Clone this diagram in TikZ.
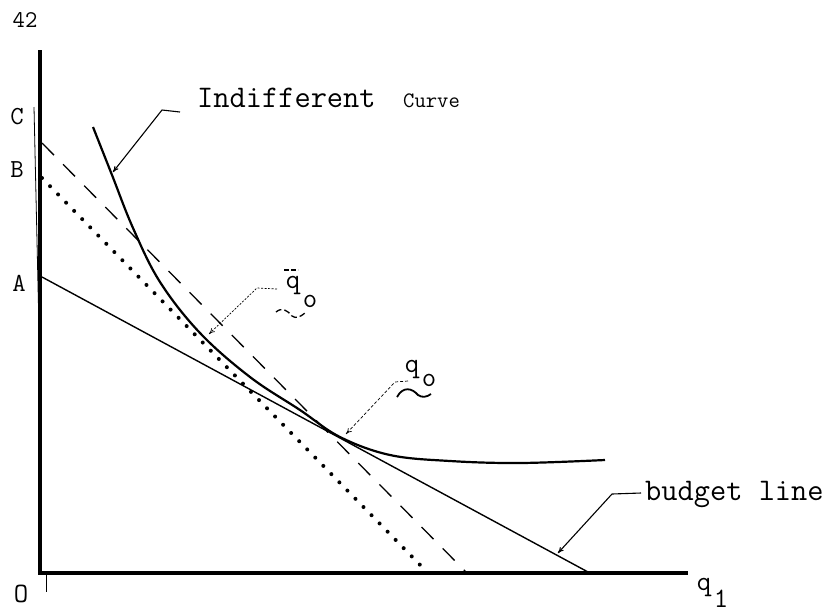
\documentclass[tikz,border=0pt]{standalone}
\usepackage{fontspec}
\newcommand{\twf}[1]{\ttfamily\fontsize{#1}{#1}\selectfont\addfontfeature{FakeBold=0.6}}
\usetikzlibrary{arrows.meta}
\begin{document}
\begin{tikzpicture}[x=1pt,y=-1pt,
  lbl/.style={inner sep=0pt,font=\twf{26}},
  ql/.style={inner sep=0pt,font=\twf{28}},
  big/.style={inner sep=0pt,font=\twf{31.5}},
  small/.style={inner sep=0pt,font=\twf{22}},
  axis/.style={line width=3.6pt},
  ptr/.style={line width=1.1pt,-{To[length=6pt,width=5pt]}},
  tptr/.style={line width=0.7pt,densely dashed,-{To[length=6pt,width=5pt]}}]
\useasboundingbox (0,0) rectangle (829,614);
% axes
\coordinate (top) at (40,50);
\coordinate (O) at (40,573);
\coordinate (xend) at (688,573);
\draw[axis] (top) -- (O) -- (xend);
\draw[line width=0.8pt] (34,107) -- (39,330);
\draw[line width=0.6pt] (46,573) -- (46,592);
% labels
\node[lbl,font=\twf{24}] (pg) at (25,20) {42};
\node[lbl] (C) at (17,117) {C};
\node[lbl] (B) at (17,170) {B};
\node[lbl] (A) at (19,283) {A};
\node[lbl,font=\twf{28}] (Ol) at (21,594) {O};
\node[ql] (q1) at (704,587) {q};
\node[ql] (q1s) at (721,599) {1};
% lines
\coordinate (Aa) at (42,277);
\coordinate (Ab) at (588,572);
\draw[line width=1.4pt] (Aa) -- (Ab);
\coordinate (Da) at (42,143);
\coordinate (Db) at (466,572);
\draw[line width=1.3pt,dash pattern=on 17pt off 13pt] (Da) -- (Db);
\coordinate (Ta) at (42,178);
\coordinate (Tb) at (427,572);
\draw[line width=4pt,line cap=round,dash pattern=on 0pt off 11.5pt] (Ta) -- (Tb);
% indifference curve
\draw[line width=2.2pt] plot[smooth,tension=0.6] coordinates {(93,127) (112,175) (133,228) (160,282) (200,333) (250,377) (300,410) (340,437) (390,455) (450,461) (520,463) (605,460)};
% Indifferent Curve label
\node[big,anchor=base west] (ic) at (197,107) {Indifferent};
\node[small,anchor=base west] (icc) at (403,107) {Curve};
\coordinate (ica) at (180,112);
\coordinate (icb) at (162,110);
\coordinate (ict) at (113,172);
\draw[ptr] (ica) -- (icb) -- (ict);
% budget line label
\node[big,anchor=base west] (bl) at (645,500) {budget line};
\coordinate (bla) at (641,493);
\coordinate (blb) at (612,494);
\coordinate (blt) at (558,553);
\draw[ptr] (bla) -- (blb) -- (blt);
% q_o label
\node[ql] (qo) at (412,369) {q};
\node[ql] (qos) at (429,380) {o};
\draw[line width=1.8pt] (397,397) .. controls (403,386) and (412,388) .. (418,395) .. controls (422,398) and (427,397) .. (431,394);
\coordinate (qoa) at (408,381);
\coordinate (qob) at (395,382);
\coordinate (qot) at (346,434);
\draw[tptr] (qoa) -- (qob) -- (qot);
% bar q_o label
\node[ql] (qb) at (293,285) {q};
\draw[line width=1.2pt,dash pattern=on 5pt off 2pt] (284,270) -- (298,270);
\node[ql] (qbs) at (310,301) {o};
\draw[line width=1.3pt,dash pattern=on 6pt off 3pt] (276,312) .. controls (282,307) and (287,310) .. (292,316) .. controls (296,319) and (300,317) .. (305,313);
\coordinate (qba) at (277,289);
\coordinate (qbb) at (257,288);
\coordinate (qbt) at (209,334);
\draw[tptr,dash pattern=on 2pt off 1.5pt] (qba) -- (qbb) -- (qbt);
\end{tikzpicture}
\end{document}
